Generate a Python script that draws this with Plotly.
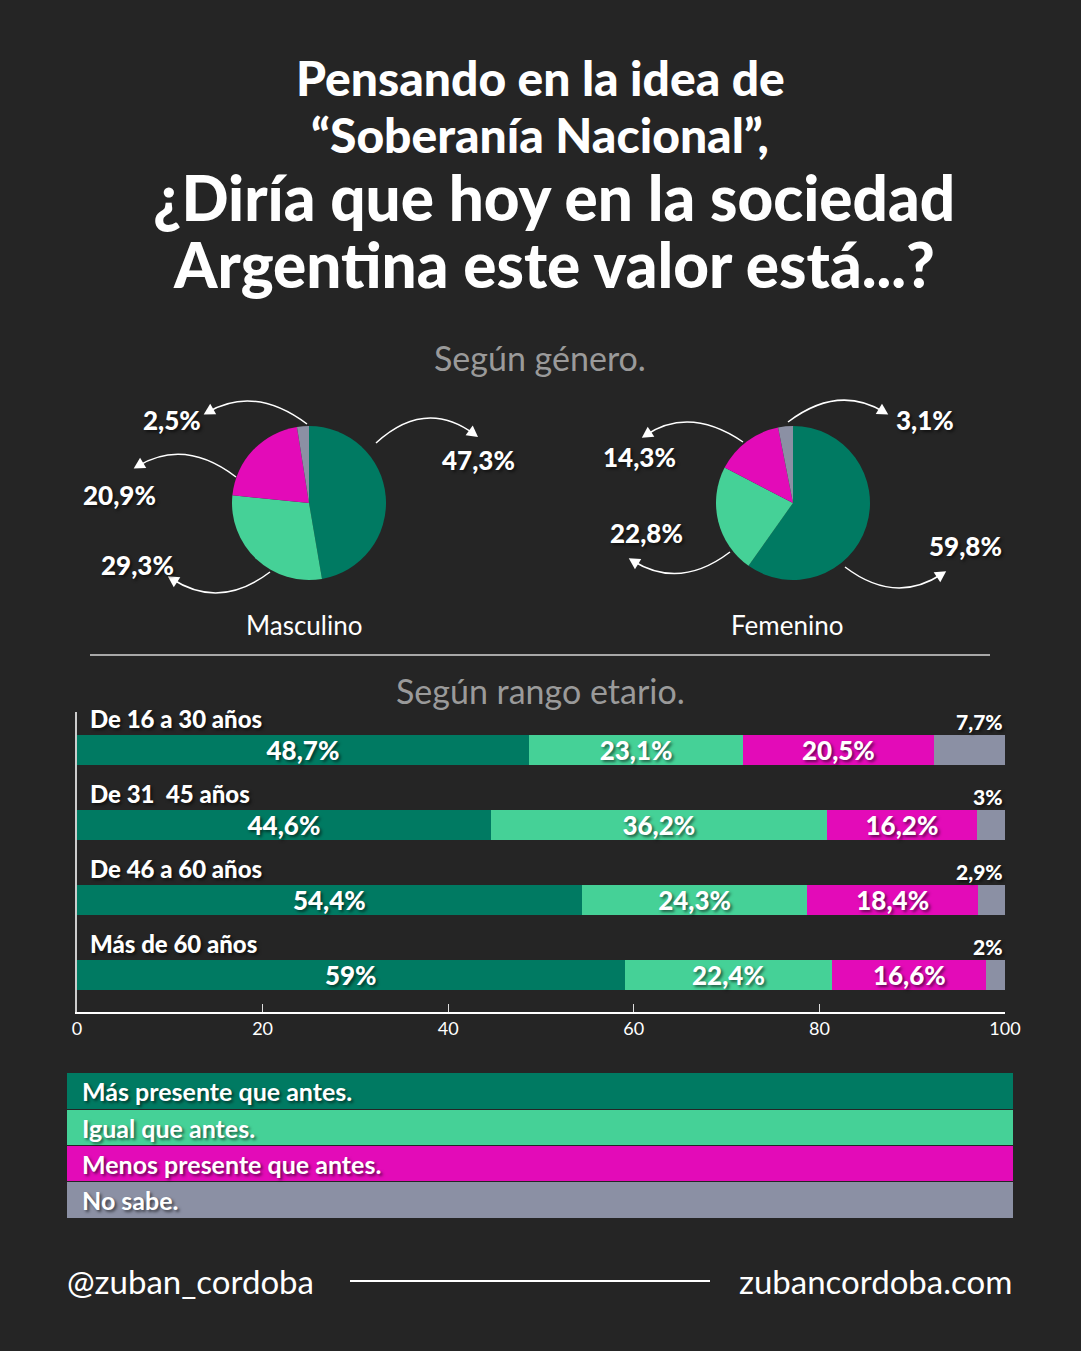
import plotly.graph_objects as go

W, H = 1081, 1351
BG = "#252525"
C_MAS = "#007A62"
C_IGUAL = "#45D197"
C_MENOS = "#E30BB8"
C_NS = "#8B90A4"
FONT = "Lato"
SHADOW = "2px 2px 3px rgba(0,0,0,0.55)"
# the page is photographed with the plot squeezed into x 5..1065, so map target pixels onto that
X_OFF, X_SPAN = 5, 1060

# data
opciones = ["Más presente que antes.", "Igual que antes.", "Menos presente que antes.", "No sabe."]
masculino = [47.3, 29.3, 20.9, 2.5]
femenino = [59.8, 22.8, 14.3, 3.1]

rangos = ["De 16 a 30 años", "De 31  45 años", "De 46 a 60 años", "Más de 60 años"]
mas_presente = [48.7, 44.6, 54.4, 59]
igual = [23.1, 36.2, 24.3, 22.4]
menos_presente = [20.5, 16.2, 18.4, 16.6]
no_sabe = [7.7, 3, 2.9, 2]

colores = [C_MAS, C_IGUAL, C_MENOS, C_NS]


def fmt(v):
    return f"{v:g}".replace(".", ",") + "%"


def px(x, y):
    # pixel -> paper
    return (x - X_OFF) / X_SPAN, 1 - y / H


fig = go.Figure()

# pies
for vals, cx, name in [(masculino, 309, "Masculino"), (femenino, 793, "Femenino")]:
    x0, y1 = px(cx - 77, 426)
    x1, y0 = px(cx + 77, 580)
    fig.add_trace(go.Pie(
        values=vals, labels=opciones, sort=False, direction="clockwise",
        rotation=0, marker=dict(colors=colores), textinfo="none",
        domain=dict(x=[x0, x1], y=[y0, y1]), showlegend=False,
        hoverinfo="label+percent",
    ))

# stacked bars
ys = list(range(len(rangos)))
for vals, col in zip([mas_presente, igual, menos_presente, no_sabe], colores):
    txt = [fmt(v) for v in vals] if col != C_NS else ["" for v in vals]
    fig.add_trace(go.Bar(
        y=ys, x=vals, orientation="h", marker=dict(color=col, line=dict(width=0)),
        width=0.4, text=txt, textposition="inside", insidetextanchor="middle",
        textangle=0, constraintext="none",
        insidetextfont=dict(family=FONT, size=26, color="white", weight=900, shadow=SHADOW),
        showlegend=False, xaxis="x", yaxis="y",
    ))

ann = []
shapes = []

# category labels + no sabe labels
for i, r in enumerate(rangos):
    ann.append(dict(x=1.2, y=i - 0.41, xref="x", yref="y", text=r, showarrow=False,
                    xanchor="left", yanchor="middle",
                    font=dict(family=FONT, size=24, color="white", weight=900, shadow=SHADOW)))
    ann.append(dict(x=100, y=i - 0.38, xref="x", yref="y", text=fmt(no_sabe[i]), showarrow=False,
                    xanchor="right", yanchor="middle",
                    font=dict(family=FONT, size=21, color="white", weight=900, shadow=SHADOW)))


def text(x, y, s, size, color="white", weight=900, anchor="center", shadow=None):
    xp, yp = px(x, y)
    f = dict(family=FONT, size=size, color=color, weight=weight)
    if shadow:
        f["shadow"] = shadow
    ann.append(dict(x=xp, y=yp, xref="paper", yref="paper", text=s, showarrow=False,
                    xanchor=anchor, yanchor="middle", font=f))


# title
text(540, 78, "Pensando en la idea de", 48)
text(540, 135, "“Soberanía Nacional”,", 48)
text(554, 197, "¿Diría que hoy en la sociedad", 62)
text(554, 264, "Argentina este valor está...?", 62)
text(540, 357, "Según género.", 34, color="#9a9a9a", weight=400)
text(540, 690, "Según rango etario.", 34, color="#9a9a9a", weight=400)
text(304, 625, "Masculino", 26, weight=400)
text(787, 625, "Femenino", 26, weight=400)

# pie labels
for (x, y, v) in [(478, 460, masculino[0]), (137, 565, masculino[1]), (119, 495, masculino[2]),
                  (172, 420, masculino[3]), (965, 546, femenino[0]), (646, 533, femenino[1]),
                  (639, 457, femenino[2]), (925, 420, femenino[3])]:
    text(x, y, fmt(v), 26, shadow=SHADOW)


# curved arrows
def arrow(p0, pc, p1):
    a = px(*p0)
    c = px(*pc)
    b = px(*p1)
    shapes.append(dict(type="path", xref="paper", yref="paper",
                       path=f"M {a[0]},{a[1]} Q {c[0]},{c[1]} {b[0]},{b[1]}",
                       line=dict(color="white", width=1.5)))
    # arrow head
    dx, dy = p1[0] - pc[0], p1[1] - pc[1]
    n = (dx ** 2 + dy ** 2) ** 0.5
    ux, uy = dx / n, dy / n
    L, Wd = 11, 6
    tip = (p1[0] + ux * 5, p1[1] + uy * 5)
    base = (tip[0] - ux * L, tip[1] - uy * L)
    l = (base[0] - uy * Wd, base[1] + ux * Wd)
    r = (base[0] + uy * Wd, base[1] - ux * Wd)
    t, lp, rp = px(*tip), px(*l), px(*r)
    shapes.append(dict(type="path", xref="paper", yref="paper",
                       path=f"M {t[0]},{t[1]} L {lp[0]},{lp[1]} L {rp[0]},{rp[1]} Z",
                       fillcolor="white", line=dict(width=0)))


arrow((376, 443), (425, 398), (474, 434))
arrow((307, 424), (255, 385), (208, 412))
arrow((236, 477), (185, 438), (138, 466))
arrow((270, 572), (220, 610), (172, 579))
arrow((788, 422), (838, 384), (884, 412))
arrow((743, 442), (690, 406), (646, 435))
arrow((730, 552), (680, 590), (633, 561))
arrow((845, 567), (895, 605), (942, 574))

# divider line
a, b = px(90, 655), px(990, 655)
shapes.append(dict(type="line", xref="paper", yref="paper", x0=a[0], y0=a[1], x1=b[0], y1=b[1],
                   line=dict(color="#a8a8a8", width=2)))

# legend boxes
box_y = [(1073, 1109), (1110, 1145), (1146, 1181), (1182, 1218)]
for (t0, t1), col, lab in zip(box_y, colores, opciones):
    p0, p1 = px(67, t1), px(1013, t0)
    shapes.append(dict(type="rect", xref="paper", yref="paper", x0=p0[0], y0=p0[1], x1=p1[0], y1=p1[1],
                       fillcolor=col, line=dict(width=0), layer="below"))
    text(80, (t0 + t1) / 2, lab, 25, anchor="left", weight=700, shadow=SHADOW)

# footer
text(65, 1281, "@zuban_cordoba", 33, weight=400, anchor="left")
text(1014, 1281, "zubancordoba.com", 33, weight=400, anchor="right")
a, b = px(350, 1281), px(710, 1281)
shapes.append(dict(type="line", xref="paper", yref="paper", x0=a[0], y0=a[1], x1=b[0], y1=b[1],
                   line=dict(color="white", width=2)))

bx0, _ = px(77, 0)
bx1, _ = px(1005, 0)
_, by0 = px(0, 1012)
_, by1 = px(0, 712)

fig.update_layout(
    width=W, height=H, margin=dict(l=0, r=0, t=0, b=0),
    paper_bgcolor=BG, plot_bgcolor=BG, barmode="stack",
    font=dict(family=FONT, color="white"),
    annotations=ann, shapes=shapes,
    xaxis=dict(domain=[bx0, bx1], range=[0, 100], tickvals=[0, 20, 40, 60, 80, 100],
               showgrid=False, zeroline=False, showline=True, linecolor="white", linewidth=1.5,
               ticks="inside", ticklen=8, tickcolor="#dddddd", anchor="y",
               tickfont=dict(family=FONT, size=18, color="white"), fixedrange=True),
    yaxis=dict(domain=[by0, by1], range=[3.5, -0.5], showticklabels=False, showgrid=False,
               zeroline=False, showline=True, linecolor="#cccccc", linewidth=1.5, anchor="x",
               fixedrange=True),
)

fig.write_html(
    "out.html",
    config={"displayModeBar": False},
    post_script="document.documentElement.style.overflow='hidden';"
                "document.body.style.margin='0';document.body.style.overflow='hidden';"
                "document.documentElement.style.background='#252525';",
)
